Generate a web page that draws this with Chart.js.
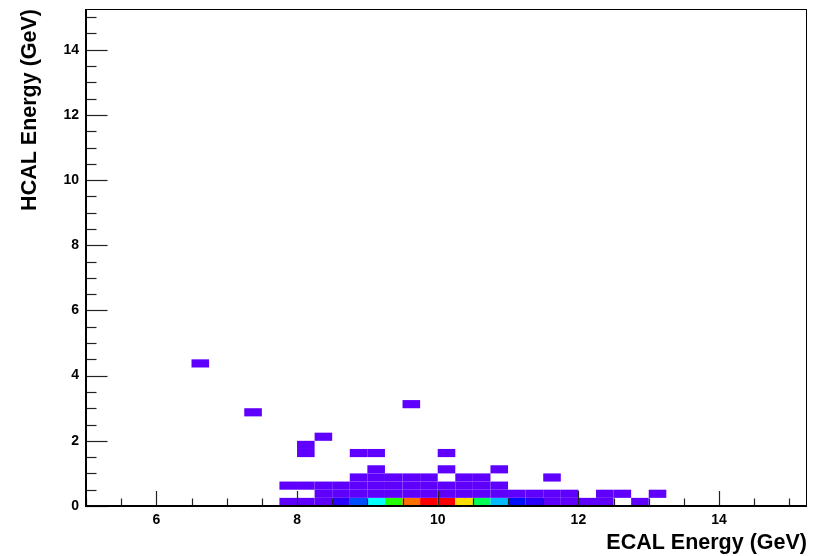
<!DOCTYPE html>
<html>
<head>
<meta charset="utf-8">
<script src="https://cdn.jsdelivr.net/npm/chart.js@4.4.1/dist/chart.umd.min.js"></script>
<style>
    html, body { margin: 0; padding: 0; background: #fff; }
    #wrap { width: 816px; height: 556px; }
</style>
</head>
<body>
<div id="wrap"><canvas id="hist2d"></canvas></div>
<script>
// ===== Histogram bins (lower edges, GeV) and counts =====
const binX = [
    7.75, 8.0, 8.25, 8.5, 8.75, 9.0, 9.25, 9.5, 9.75, 10.0, 10.25, 10.5, 10.75, 11.0, 11.25, 11.5, 11.75, 12.0, 12.25, 12.75,
    8.25, 8.5, 8.75, 9.0, 9.25, 9.5, 9.75, 10.0, 10.25, 10.5, 10.75, 11.0, 11.25, 11.5, 11.75, 12.25, 12.5, 13.0,
    7.75, 8.0, 8.25, 8.5, 8.75, 9.0, 9.25, 9.5, 9.75, 10.0, 10.25, 10.5, 10.75,
    8.75, 9.0, 9.25, 9.5, 9.75, 10.25, 10.5, 11.5,
    9.0, 10.0, 10.75,
    8.0, 8.75, 9.0, 10.0,
    8.0,
    8.25,
    7.25,
    9.5,
    6.5
];
const binY = [
    0, 0, 0, 0, 0, 0, 0, 0, 0, 0, 0, 0, 0, 0, 0, 0, 0, 0, 0, 0,
    0.25, 0.25, 0.25, 0.25, 0.25, 0.25, 0.25, 0.25, 0.25, 0.25, 0.25, 0.25, 0.25, 0.25, 0.25, 0.25, 0.25, 0.25,
    0.5, 0.5, 0.5, 0.5, 0.5, 0.5, 0.5, 0.5, 0.5, 0.5, 0.5, 0.5, 0.5,
    0.75, 0.75, 0.75, 0.75, 0.75, 0.75, 0.75, 0.75,
    1.0, 1.0, 1.0,
    1.5, 1.5, 1.5, 1.5,
    1.75,
    2.0,
    2.75,
    3.0,
    4.25
];
const binCount = [
    1, 1, 1, 2, 4, 6, 8, 10, 11, 11, 9, 7, 5, 3, 2, 1, 1, 1, 1, 1,
    1, 1, 1, 1, 1, 1, 1, 1, 1, 1, 1, 1, 1, 1, 1, 1, 1, 1,
    1, 1, 1, 1, 1, 1, 1, 1, 1, 1, 1, 1, 1,
    1, 1, 1, 1, 1, 1, 1, 1,
    1, 1, 1,
    1, 1, 1, 1,
    1,
    1,
    1,
    1,
    1
];
const binWidth = 0.25;
const binHeight = 0.25;

// colour per count (ROOT-like rainbow palette)
const palette = ["#ffffff", "#5f00ff", "#2a00ff", "#0010ff", "#0050ff", "#00bbff",
    "#00ffff", "#00ff55", "#22ff00", "#ffdd00", "#ff7000", "#ff0000"];

const points = binX.map((x, i) => ({ x: x, y: binY[i], z: binCount[i] }));

const FONT = "'Liberation Sans', Arial, Helvetica, sans-serif";

// ===== Draw the bins as filled cells =====
const binPlugin = {
    id: "bins",
    beforeDatasetsDraw(chart) {
        const { ctx, scales: { x, y } } = chart;
        ctx.save();
        chart.data.datasets[0].data.forEach((p) => {
            const x0 = x.getPixelForValue(p.x);
            const x1 = x.getPixelForValue(p.x + binWidth);
            const y0 = y.getPixelForValue(p.y);
            const y1 = y.getPixelForValue(p.y + binHeight);
            ctx.fillStyle = palette[Math.min(p.z, palette.length - 1)];
            ctx.fillRect(x0, y1, x1 - x0, y0 - y1);
        });
        ctx.restore();
    },
};

// ===== ROOT style frame and inside ticks =====
const framePlugin = {
    id: "frame",
    afterDraw(chart) {
        const { ctx, chartArea: a, scales: { x, y } } = chart;
        ctx.save();
        ctx.strokeStyle = "#000";
        ctx.lineWidth = 1;
        ctx.strokeRect(a.left + 0.5, a.top + 0.5, a.right - a.left - 1, a.bottom - a.top);

        ctx.strokeStyle = "#222";
        ctx.lineWidth = 1.2;
        x.ticks.forEach((t) => {
            const px = Math.round(x.getPixelForValue(t.value)) + 0.5;
            const len = t.value % 2 === 0 ? 15 : 7.5;
            ctx.beginPath();
            ctx.moveTo(px, a.bottom);
            ctx.lineTo(px, a.bottom - len);
            ctx.stroke();
        });
        y.ticks.forEach((t) => {
            const py = Math.round(y.getPixelForValue(t.value)) + 0.5;
            const len = t.value % 2 === 0 ? 21.5 : 10.5;
            ctx.beginPath();
            ctx.moveTo(a.left, py);
            ctx.lineTo(a.left + len, py);
            ctx.stroke();
        });

        ctx.strokeStyle = "#000";
        ctx.lineWidth = 2;
        ctx.beginPath();
        ctx.moveTo(a.left, a.top);
        ctx.lineTo(a.left, a.bottom);
        ctx.lineTo(a.right, a.bottom);
        ctx.stroke();
        ctx.restore();
    },
};

const evenLabel = (v) => (v % 2 === 0 ? String(v) : "");

new Chart(document.getElementById("hist2d"), {
    type: "scatter",
    data: {
        datasets: [
            {
                label: "HCAL vs ECAL",
                data: points,
                pointRadius: 0,
                pointHoverRadius: 0,
            },
        ],
    },
    options: {
        responsive: true,
        maintainAspectRatio: false,
        animation: false,
        events: [],
        layout: { padding: { top: 9, right: 9, left: 0, bottom: 0 } },
        plugins: {
            legend: { display: false },
            tooltip: { enabled: false },
        },
        scales: {
            x: {
                type: "linear",
                min: 5,
                max: 15.25,
                grid: { display: false, drawTicks: false },
                border: { display: false },
                afterFit: (s) => {
                    s.height = 50;
                    s.paddingLeft = 0;
                    s.paddingRight = 0;
                },
                ticks: {
                    stepSize: 0.5,
                    includeBounds: false,
                    autoSkip: false,
                    maxRotation: 0,
                    padding: 6,
                    color: "#000",
                    font: { family: FONT, size: 14, weight: "bold" },
                    callback: evenLabel,
                },
                title: {
                    display: true,
                    text: "ECAL Energy (GeV)",
                    align: "end",
                    color: "#000",
                    padding: { top: 0, bottom: 0 },
                    font: { family: FONT, size: 21.5, weight: "bold" },
                },
            },
            y: {
                type: "linear",
                min: 0,
                max: 15.25,
                grid: { display: false, drawTicks: false },
                border: { display: false },
                afterFit: (s) => {
                    s.width = 86;
                    s.paddingTop = 0;
                    s.paddingBottom = 0;
                },
                ticks: {
                    stepSize: 0.5,
                    includeBounds: false,
                    autoSkip: false,
                    padding: 7,
                    color: "#000",
                    font: { family: FONT, size: 14, weight: "bold" },
                    callback: evenLabel,
                },
                title: {
                    display: true,
                    text: "HCAL Energy (GeV)",
                    align: "end",
                    color: "#000",
                    padding: { top: 17, bottom: 0 },
                    font: { family: FONT, size: 21.5, weight: "bold" },
                },
            },
        },
    },
    plugins: [binPlugin, framePlugin],
});
</script>
</body>
</html>
